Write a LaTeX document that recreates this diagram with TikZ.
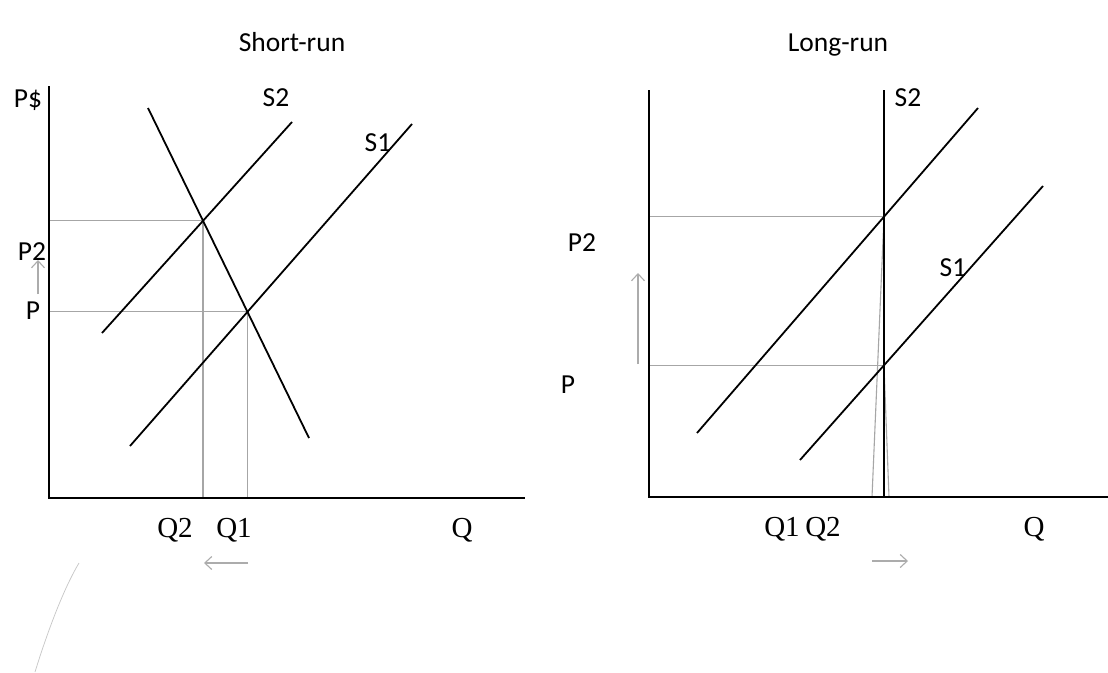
\documentclass[tikz,border=0pt]{standalone}
\usepackage{fontspec}
\setmainfont{Carlito}
\newfontfamily\qfont{Liberation Serif}
\usetikzlibrary{arrows.meta}
\begin{document}
\begin{tikzpicture}[x=1pt,y=-1pt,
  axisline/.style={line width=1.7pt, black},
  curveline/.style={line width=1.8pt, black},
  guide/.style={gray!70, line width=1.1pt},
  lbl/.style={font=\fontsize{27.5}{30}\selectfont, inner sep=0pt},
  qlbl/.style={font=\qfont\fontsize{29}{30}\selectfont, inner sep=0pt},
  shiftarrow/.style={gray!65, line width=1.1pt, -{Straight Barb[length=7pt,width=13pt,line width=1.1pt]}},
  pencil/.style={gray!45, line width=0.7pt}]
\useasboundingbox (0,0) rectangle (1108,672);
\fill[white] (0,0) rectangle (1108,672);

% ---------- Short-run ----------
\coordinate (LO) at (49,498);
\coordinate (LT) at (49,86);
\coordinate (LX) at (525,498);
\coordinate (S2a) at (102,333);
\coordinate (S2b) at (292,122);
\coordinate (S1a) at (130,446);
\coordinate (S1b) at (412,124);
\coordinate (Da) at (148,108);
\coordinate (Db) at (309,438);
\coordinate (E2) at (intersection of S2a--S2b and Da--Db);
\coordinate (E1) at (intersection of S1a--S1b and Da--Db);

\draw[guide] (E2) -- (E2 -| LO);
\draw[guide] (E2) -- (E2 |- LO);
\draw[guide] (E1) -- (E1 -| LO);
\draw[guide] (E1) -- (E1 |- LO);

\draw[axisline] (LT) -- (LO) -- (LX);
\draw[curveline] (S2a) -- (S2b);
\draw[curveline] (S1a) -- (S1b);
\draw[curveline] (Da) -- (Db);

\node[lbl, anchor=base] (tShort) at (292,51) {Short-run};
\node[lbl] (lPs) at (28,100) {P\$};
\node[lbl] (lS2) at (276,98) {S2};
\node[lbl] (lS1) at (378,143) {S1};
\node[lbl] (lP2) at (32,252) {P2};
\node[lbl] (lP) at (33,311) {P};
\node[qlbl] (lQ2) at (175,530) {Q2};
\node[qlbl] (lQ1) at (234,530) {Q1};
\node[qlbl] (lQ) at (462,530) {Q};

\coordinate (au1) at (38,294);
\coordinate (au2) at (38,260);
\draw[shiftarrow] (au1) -- (au2);
\coordinate (al1) at (248,563);
\coordinate (al2) at (204,563);
\draw[shiftarrow] (al1) -- (al2);

\coordinate (pc1) at (79,563);
\coordinate (pc2) at (35,672);
\draw[pencil] (pc1) .. controls (64,588) and (48,630) .. (pc2);

% ---------- Long-run ----------
\coordinate (RO) at (649,497);
\coordinate (RT) at (649,90);
\coordinate (RX) at (1108,497);
\coordinate (Vt) at (884,90);
\coordinate (Vb) at (884,497);
\coordinate (U1) at (697,433);
\coordinate (U2) at (978,108);
\coordinate (W1) at (800,460);
\coordinate (W2) at (1043,186);
\coordinate (F2) at (intersection of U1--U2 and Vt--Vb);
\coordinate (F1) at (intersection of W1--W2 and Vt--Vb);
\coordinate (G2) at (872,497);
\coordinate (G1) at (889,497);

\draw[guide] (F2) -- (F2 -| RO);
\draw[guide] (F1) -- (F1 -| RO);
\draw[guide] (F2) -- (G2);
\draw[guide] (F1) -- (G1);

\draw[axisline] (RT) -- (RO) -- (RX);
\draw[curveline] (Vt) -- (Vb);
\draw[curveline] (U1) -- (U2);
\draw[curveline] (W1) -- (W2);

\node[lbl, anchor=base] (tLong) at (838,51) {Long-run};
\node[lbl] (rS2) at (908,98) {S2};
\node[lbl] (rS1) at (953,268) {S1};
\node[lbl] (rP2) at (582,243) {P2};
\node[lbl] (rP) at (568,385) {P};
\node[qlbl] (rQ1) at (782,529) {Q1};
\node[qlbl] (rQ2) at (823,529) {Q2};
\node[qlbl] (rQ) at (1034,529) {Q};

\coordinate (bu1) at (638,364);
\coordinate (bu2) at (638,273);
\draw[shiftarrow] (bu1) -- (bu2);
\coordinate (br1) at (872,561);
\coordinate (br2) at (908,561);
\draw[shiftarrow] (br1) -- (br2);
\end{tikzpicture}
\end{document}
